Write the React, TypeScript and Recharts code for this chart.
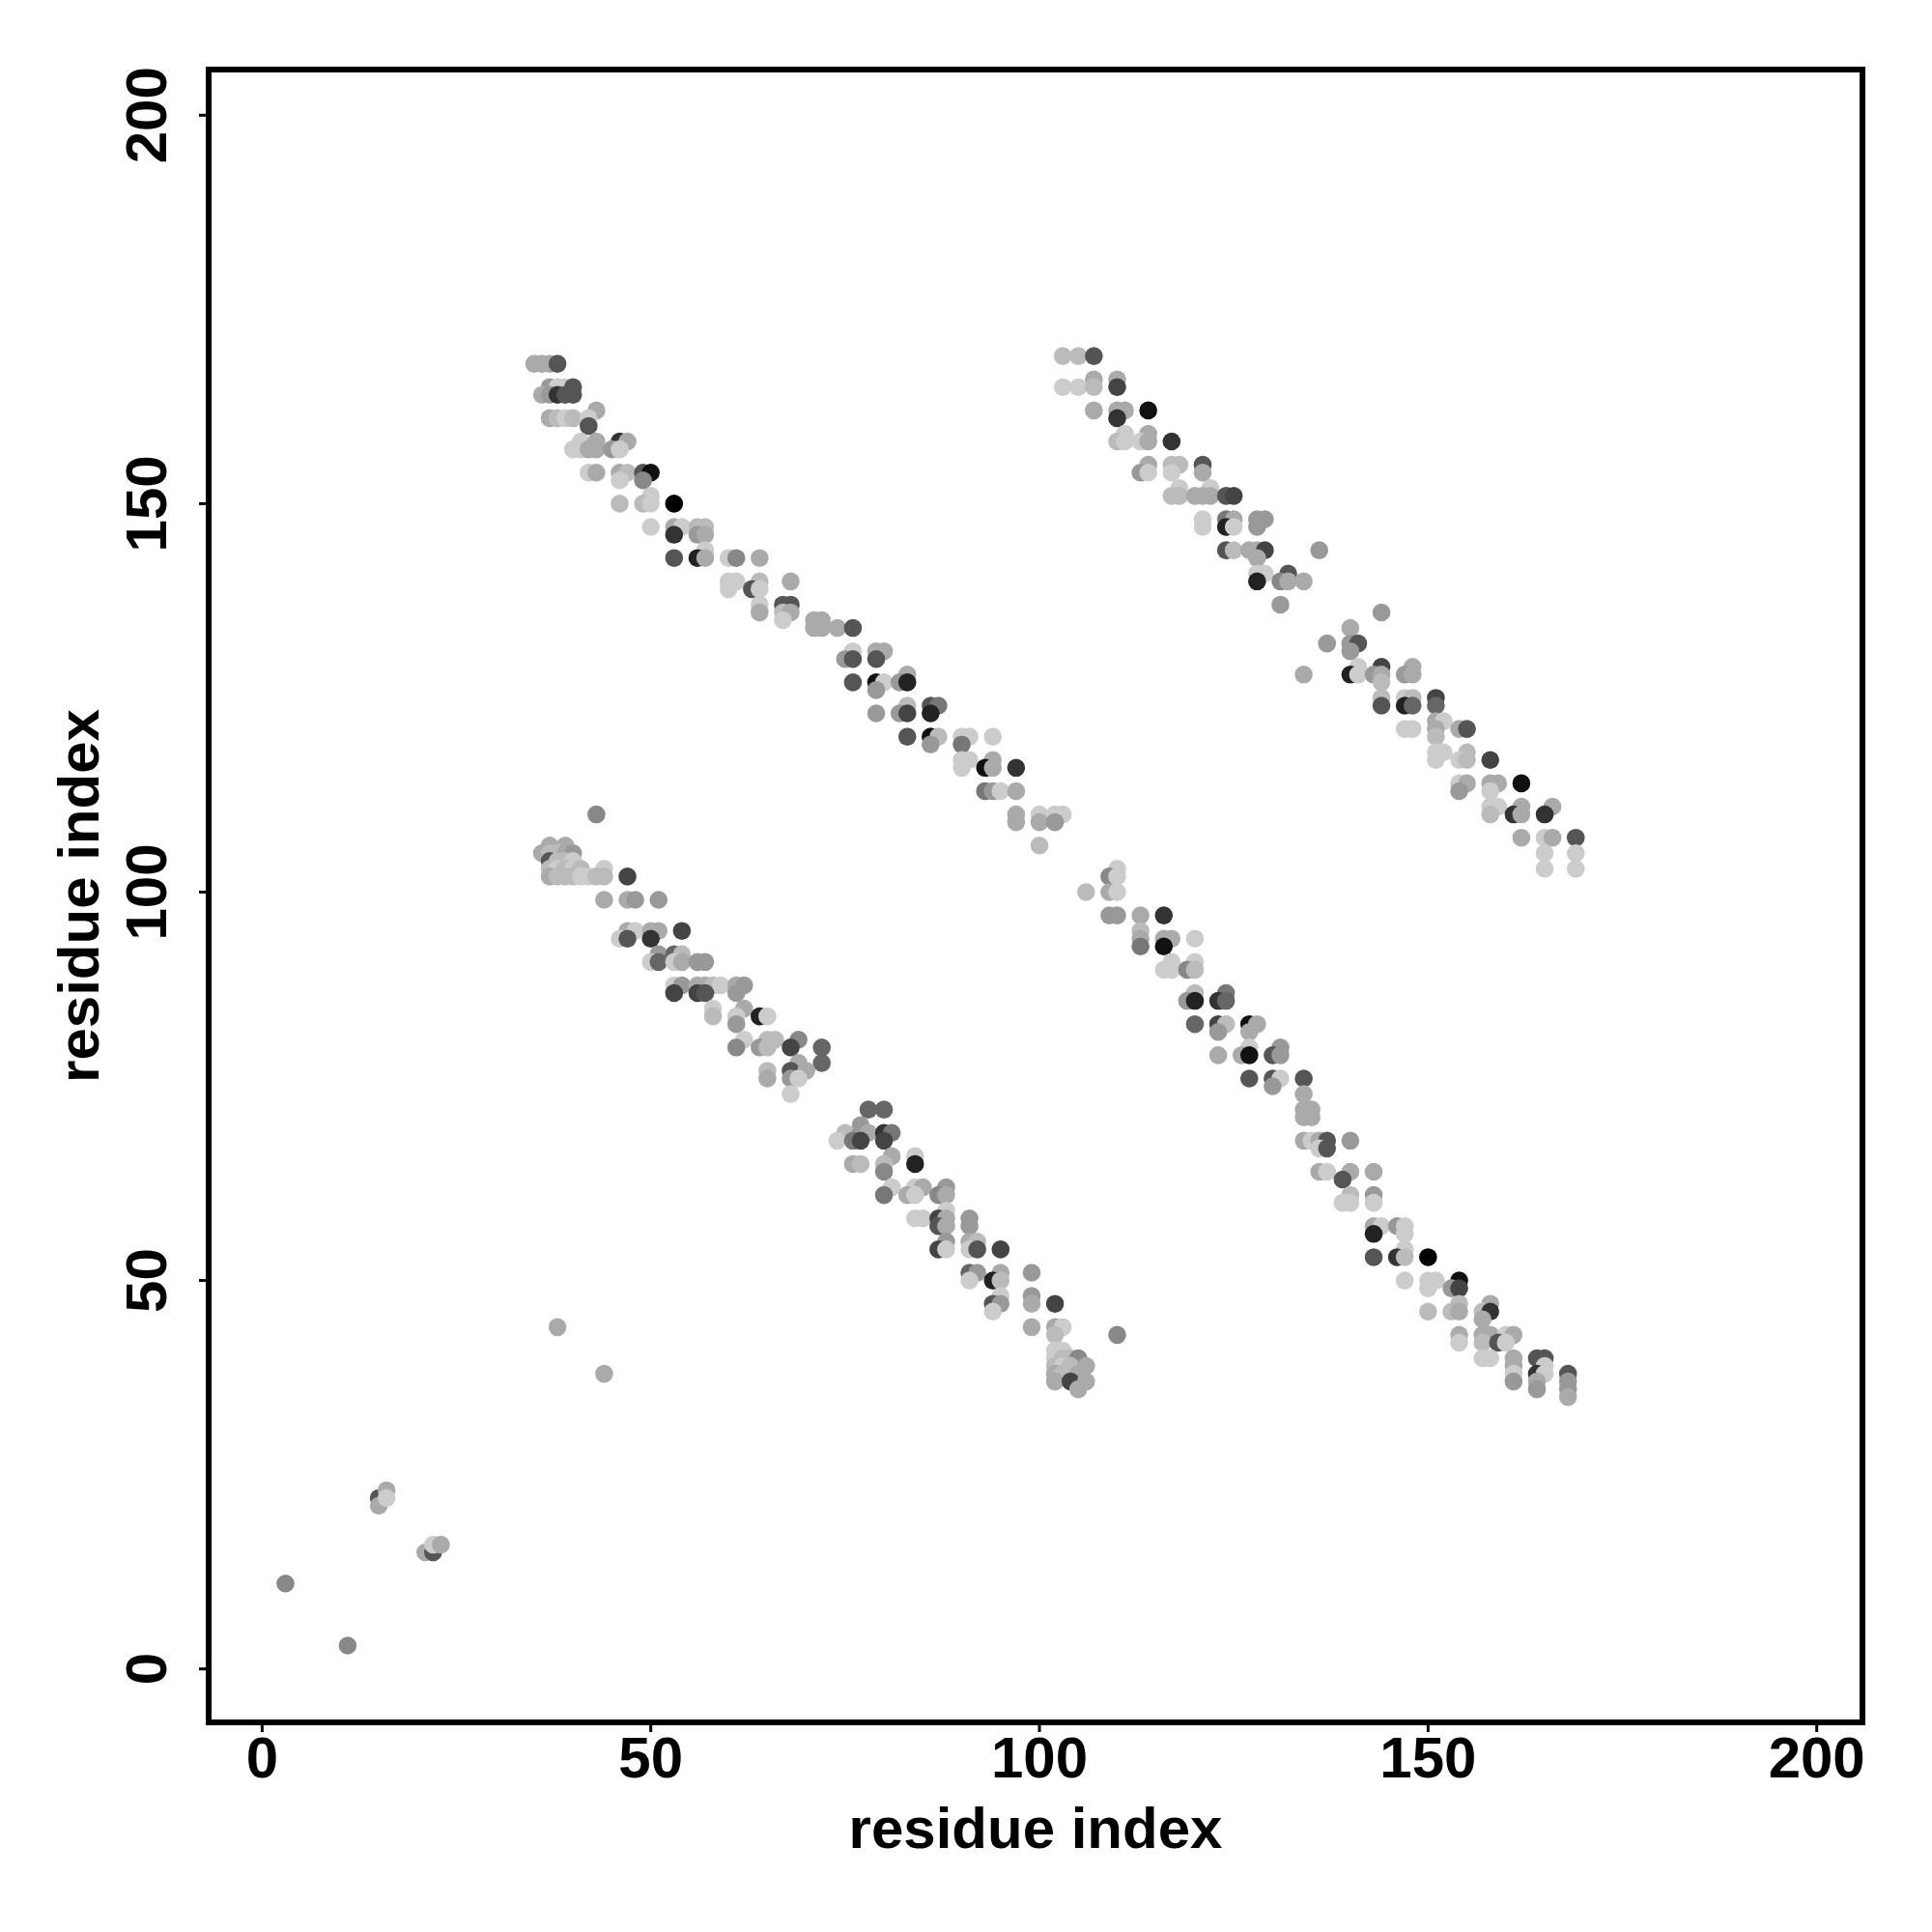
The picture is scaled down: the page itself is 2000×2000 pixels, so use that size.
import { Label, ReferenceArea, Scatter, ScatterChart, XAxis, YAxis } from 'recharts';

// axis setup (residues 1..198, R-style 4% padding)
const AXIS_TICKS = [0, 50, 100, 150, 200];
const DOMAIN: [number, number] = [-6.88, 205.88];

// contacts: [residue i, residue j, strength 0 (light grey) .. 12 (black)]
const bandUpperLeft: [number, number, number][] = [
  [35, 168, 2], [36, 168, 2], [37, 168, 2], [38, 168, 7],
  [37, 165, 3], [38, 165, 0], [39, 165, 0], [40, 165, 7],
  [36, 164, 2], [37, 164, 3], [38, 164, 9], [39, 164, 7], [40, 164, 7],
  [43, 162, 2],
  [37, 161, 2], [38, 161, 1], [39, 161, 0], [40, 161, 1], [42, 161, 0], [42, 160, 7],
  [41, 158, 0], [43, 158, 2], [46, 158, 9], [47, 158, 2],
  [40, 157, 0], [41, 157, 0], [42, 157, 2], [43, 157, 2], [45, 157, 3], [46, 157, 0],
  [42, 154, 0], [43, 154, 2], [46, 154, 2], [47, 154, 1], [49, 154, 7], [50, 154, 11],
  [46, 153, 0], [49, 153, 4],
  [50, 151, 0], [46, 150, 1], [49, 150, 1], [50, 150, 0], [53, 150, 12],
  [50, 147, 0], [53, 147, 2], [54, 147, 0], [56, 147, 1], [57, 147, 1],
  [53, 146, 9], [56, 146, 3], [57, 146, 2],
  [57, 144, 0],
  [53, 143, 7], [56, 143, 10], [57, 143, 2], [60, 143, 0], [61, 143, 4], [64, 143, 2],
  [60, 140, 0], [61, 140, 0], [64, 140, 1], [68, 140, 2],
  [60, 139, 0], [63, 139, 7], [64, 139, 0],
  [64, 137, 0], [67, 137, 7], [68, 137, 7],
  [64, 136, 2], [67, 136, 1], [68, 136, 2],
  [67, 135, 0], [71, 135, 2], [72, 135, 2],
  [71, 134, 2], [72, 134, 2], [74, 134, 2], [76, 134, 7],
  [76, 131, 0], [79, 131, 2], [80, 131, 2],
  [75, 130, 3], [76, 130, 7], [79, 130, 7],
  [83, 128, 2],
  [76, 127, 7], [79, 127, 11], [80, 127, 0], [82, 127, 3], [83, 127, 10],
  [79, 126, 3],
  [83, 124, 1], [86, 124, 7], [87, 124, 5],
  [79, 123, 3], [82, 123, 3], [83, 123, 8], [86, 123, 10],
  [83, 120, 7], [86, 120, 11], [87, 120, 1], [90, 120, 0], [91, 120, 0], [94, 120, 0],
  [86, 119, 3], [90, 119, 5],
  [90, 117, 0], [91, 117, 0], [94, 117, 2],
  [90, 116, 0], [93, 116, 11], [94, 116, 2], [97, 116, 9],
  [93, 113, 5], [94, 113, 3], [95, 113, 0], [97, 113, 2],
  [97, 110, 2], [100, 110, 0], [102, 110, 0], [103, 110, 0],
  [97, 109, 2], [100, 109, 2], [102, 109, 3],
  [100, 106, 1],
];

const bandUpperRight: [number, number, number][] = [
  [103, 169, 1], [105, 169, 1], [107, 169, 7],
  [107, 166, 2], [110, 166, 2],
  [103, 165, 0], [105, 165, 0], [107, 165, 1], [110, 165, 8],
  [107, 162, 2], [110, 162, 2], [111, 162, 2], [114, 162, 11], [110, 161, 9],
  [111, 159, 0], [114, 159, 2],
  [110, 158, 1], [111, 158, 0], [113, 158, 0], [114, 158, 2], [117, 158, 9],
  [114, 155, 2], [117, 155, 1], [118, 155, 1], [121, 155, 7],
  [113, 154, 3], [114, 154, 0], [117, 154, 0], [121, 154, 2],
  [118, 152, 0], [122, 152, 0],
  [117, 151, 1], [118, 151, 1], [120, 151, 2], [121, 151, 2], [122, 151, 2], [124, 151, 7], [125, 151, 8],
  [121, 148, 0], [124, 148, 5], [125, 148, 2], [128, 148, 3], [129, 148, 3],
  [121, 147, 0], [124, 147, 10], [125, 147, 0], [128, 147, 3],
  [124, 144, 7], [125, 144, 1], [127, 144, 2], [128, 144, 2], [129, 144, 8], [136, 144, 3],
  [128, 143, 2],
  [128, 141, 0], [129, 141, 0], [132, 141, 7],
  [128, 140, 10], [131, 140, 4], [132, 140, 2], [134, 140, 2],
  [131, 137, 3], [144, 136, 3],
  [140, 134, 2], [137, 132, 3], [140, 132, 3], [141, 132, 7], [140, 131, 3],
  [141, 129, 0], [144, 129, 8], [148, 129, 2],
  [134, 128, 2], [140, 128, 10], [141, 128, 0], [143, 128, 3], [144, 128, 2], [147, 128, 3], [148, 128, 2],
  [144, 127, 1],
  [144, 125, 1], [147, 125, 0], [148, 125, 1], [151, 125, 8],
  [144, 124, 7], [147, 124, 10], [148, 124, 6], [151, 124, 6],
  [151, 122, 2], [152, 122, 0],
  [147, 121, 0], [148, 121, 0], [151, 121, 2], [154, 121, 2], [155, 121, 7],
  [151, 120, 1],
  [151, 118, 0], [152, 118, 0], [155, 118, 1],
  [151, 117, 0], [154, 117, 0], [155, 117, 1], [158, 117, 8],
  [154, 114, 0], [155, 114, 2], [158, 114, 2], [159, 114, 2], [162, 114, 11],
  [154, 113, 3], [158, 113, 0],
  [158, 111, 0], [159, 111, 0], [162, 111, 2], [166, 111, 2],
  [158, 110, 1], [161, 110, 9], [162, 110, 2], [165, 110, 9],
  [162, 107, 2], [165, 107, 0], [166, 107, 2], [169, 107, 7],
  [165, 105, 0], [169, 105, 0], [165, 103, 0], [169, 103, 0],
];

const bandLowerLeft: [number, number, number][] = [
  [43, 110, 4],
  [37, 106, 2], [39, 106, 2],
  [36, 105, 2], [37, 105, 1], [38, 105, 1], [39, 105, 2], [40, 105, 3],
  [37, 104, 7], [38, 104, 1], [39, 104, 1], [40, 104, 0],
  [37, 103, 1], [38, 103, 0], [39, 103, 1], [40, 103, 0], [41, 103, 1], [44, 103, 0],
  [37, 102, 2], [38, 102, 1], [39, 102, 1], [40, 102, 1], [41, 102, 0], [42, 102, 0], [43, 102, 1], [44, 102, 1], [47, 102, 8],
  [44, 99, 2], [47, 99, 2], [48, 99, 3], [51, 99, 3],
  [47, 95, 2], [48, 95, 0], [50, 95, 2], [51, 95, 2], [54, 95, 8],
  [46, 94, 0], [47, 94, 7], [50, 94, 9],
  [51, 92, 3], [53, 92, 6], [54, 92, 1],
  [50, 91, 0], [51, 91, 6], [53, 91, 0], [54, 91, 2], [56, 91, 3], [57, 91, 3],
  [53, 88, 0], [54, 88, 3], [56, 88, 2], [57, 88, 2], [58, 88, 1], [59, 88, 0], [61, 88, 2], [62, 88, 3],
  [53, 87, 8], [56, 87, 8], [57, 87, 7], [61, 87, 3],
  [58, 85, 0], [62, 85, 2],
  [58, 84, 1], [61, 84, 0], [64, 84, 10], [65, 84, 0], [61, 83, 3],
  [62, 81, 0], [65, 81, 1], [66, 81, 1], [69, 81, 4],
  [61, 80, 4], [64, 80, 3], [65, 80, 1], [68, 80, 8], [72, 80, 6],
  [69, 78, 2], [72, 78, 6],
  [65, 77, 1], [68, 77, 7], [70, 77, 2],
  [65, 76, 2], [68, 76, 3], [69, 76, 0], [68, 74, 0],
  [78, 72, 6], [80, 72, 6], [77, 70, 3],
  [75, 69, 1], [77, 69, 3], [78, 69, 2], [80, 69, 9], [81, 69, 5],
  [74, 68, 0], [76, 68, 5], [77, 68, 8], [80, 68, 8],
  [81, 66, 2], [84, 66, 0],
  [76, 65, 2], [77, 65, 1], [80, 65, 1], [84, 65, 10], [80, 64, 4],
  [81, 62, 0], [84, 62, 0], [85, 62, 2], [88, 62, 3],
  [80, 61, 5], [83, 61, 2], [84, 61, 0], [87, 61, 4], [88, 61, 2],
  [88, 59, 0],
  [84, 58, 0], [85, 58, 0], [87, 58, 8], [88, 58, 2], [91, 58, 3],
  [87, 57, 7], [88, 57, 2], [91, 57, 3],
  [88, 55, 3], [91, 55, 2], [92, 55, 1],
  [87, 54, 8], [88, 54, 0], [91, 54, 0], [92, 54, 7], [95, 54, 8],
  [91, 51, 6], [92, 51, 3], [95, 51, 2], [99, 51, 3],
  [91, 50, 0], [94, 50, 10], [95, 50, 1],
  [95, 48, 0], [99, 48, 3],
  [94, 47, 7], [95, 47, 3], [99, 47, 2], [102, 47, 8], [94, 46, 0],
  [99, 44, 2], [102, 44, 2], [103, 44, 0], [102, 43, 1],
  [102, 41, 0], [103, 41, 0],
  [102, 40, 0], [103, 40, 1], [104, 40, 1], [105, 40, 4],
  [102, 39, 1], [103, 39, 0], [104, 39, 1], [106, 39, 2],
  [102, 38, 2], [103, 38, 1], [105, 38, 2],
  [102, 37, 2], [104, 37, 8], [106, 37, 2], [105, 36, 2],
];

const bandLowerRight: [number, number, number][] = [
  [110, 103, 0], [109, 102, 4], [110, 102, 0],
  [106, 100, 1], [109, 100, 2], [110, 100, 0],
  [109, 97, 3], [110, 97, 3], [113, 97, 2], [116, 97, 9],
  [113, 95, 1], [113, 94, 2], [116, 94, 2], [117, 94, 2], [120, 94, 0],
  [113, 93, 5], [116, 93, 11],
  [117, 91, 0], [120, 91, 0],
  [116, 90, 0], [117, 90, 0], [119, 90, 4], [120, 90, 1],
  [120, 87, 1], [124, 87, 5],
  [119, 86, 3], [120, 86, 10], [123, 86, 9], [124, 86, 6],
  [120, 83, 6], [123, 83, 8], [124, 83, 1], [127, 83, 11], [128, 83, 2],
  [123, 82, 3], [127, 82, 2],
  [127, 80, 0], [131, 80, 3],
  [123, 79, 2], [126, 79, 2], [127, 79, 11], [130, 79, 7], [131, 79, 3],
  [127, 76, 7], [130, 76, 7], [131, 76, 0], [134, 76, 7], [130, 75, 3],
  [134, 74, 2], [134, 72, 2], [135, 72, 2], [134, 71, 2], [135, 71, 2],
  [134, 68, 2], [135, 68, 0], [136, 68, 2], [137, 68, 7], [140, 68, 3],
  [136, 67, 0], [137, 67, 7],
  [136, 64, 2], [137, 64, 0], [140, 64, 2], [143, 64, 2], [139, 63, 7],
  [140, 61, 1], [143, 61, 3],
  [139, 60, 0], [140, 60, 0], [143, 60, 0],
  [143, 57, 2], [144, 57, 0], [146, 57, 3], [147, 57, 0],
  [143, 56, 10], [147, 56, 0],
  [147, 54, 0],
  [143, 53, 7], [146, 53, 9], [147, 53, 1], [150, 53, 12],
  [147, 50, 0], [150, 50, 0], [151, 50, 0], [154, 50, 11],
  [150, 49, 0], [153, 49, 3], [154, 49, 8],
  [154, 47, 1], [158, 47, 2],
  [150, 46, 1], [153, 46, 1], [154, 46, 2], [157, 46, 1], [158, 46, 9], [157, 45, 2],
  [154, 43, 2], [157, 43, 2], [158, 43, 2], [160, 43, 0], [161, 43, 2],
  [154, 42, 0], [157, 42, 1], [159, 42, 7], [160, 42, 0],
  [157, 40, 0], [158, 40, 0], [161, 40, 2], [164, 40, 7], [165, 40, 7],
  [161, 39, 2], [165, 39, 0],
  [161, 38, 0], [164, 38, 9], [165, 38, 0], [168, 38, 7],
  [161, 37, 3], [164, 37, 2], [168, 37, 3],
  [164, 36, 3], [168, 36, 3], [168, 35, 2],
];

const isolated: [number, number, number][] = [
  [3, 11, 4], [11, 3, 4],
  [15, 22, 7], [15, 21, 2], [16, 23, 2], [16, 22, 0],
  [21, 15, 2], [22, 15, 7], [22, 16, 0], [23, 16, 2],
  [38, 44, 2], [44, 38, 2], [110, 43, 4],
];

const contacts = [bandUpperLeft, bandUpperRight, bandLowerLeft, bandLowerRight, isolated]
  .flat()
  .map(([x, y, s]) => ({ x, y, s }));

const FONT = '"Liberation Sans", Arial, Helvetica, sans-serif';

// plot box edges in page px
const LEFT = 216;
const TOP = 72;
const RIGHT = 1928;
const BOTTOM = 1783;

const grey = (s: number) => {
  const v = (12 - s) * 17;
  return `rgb(${v},${v},${v})`;
};

const Dot = (props: any) => {
  const { cx, cy, payload } = props;
  return <circle cx={cx} cy={cy} r={9.3} fill={grey(payload.s)} />;
};

const YTick = (props: any) => {
  const { x, y, payload } = props;
  return (
    <text
      x={x}
      y={y}
      transform={`rotate(-90 ${x} ${y})`}
      textAnchor="middle"
      fontFamily={FONT}
      fontWeight={700}
      fontSize={60}
      fill="#000"
    >
      {payload.value}
    </text>
  );
};

export default function App() {
  return (
    <div style={{ position: 'absolute', left: 0, top: 0, width: 2000, height: 2000, background: '#fff' }}>
      <ScatterChart
        width={2000}
        height={2000}
        margin={{ top: TOP, right: 2000 - RIGHT, bottom: 0, left: 0 }}
      >
        <XAxis
          type="number"
          dataKey="x"
          domain={DOMAIN}
          ticks={AXIS_TICKS}
          allowDataOverflow
          height={2000 - BOTTOM}
          axisLine={false}
          tickLine={{ stroke: '#000', strokeWidth: 3 }}
          tickSize={10}
          tickMargin={4}
          tick={{ fill: '#000', fontSize: 60, fontWeight: 700, fontFamily: FONT }}
        >
          <Label
            content={() => (
              <text
                x={(LEFT + RIGHT) / 2}
                y={1913}
                textAnchor="middle"
                fontFamily={FONT}
                fontWeight={700}
                fontSize={60}
                fill="#000"
              >
                residue index
              </text>
            )}
          />
        </XAxis>
        <YAxis
          type="number"
          dataKey="y"
          domain={DOMAIN}
          ticks={AXIS_TICKS}
          allowDataOverflow
          width={LEFT}
          axisLine={false}
          tickLine={{ stroke: '#000', strokeWidth: 3 }}
          tickSize={10}
          tickMargin={34}
          tick={<YTick />}
        >
          <Label
            content={() => (
              <text
                x={102}
                y={(TOP + BOTTOM) / 2}
                transform={`rotate(-90 102 ${(TOP + BOTTOM) / 2})`}
                textAnchor="middle"
                fontFamily={FONT}
                fontWeight={700}
                fontSize={60}
                fill="#000"
              >
                residue index
              </text>
            )}
          />
        </YAxis>
        <ReferenceArea
          x1={DOMAIN[0]}
          x2={DOMAIN[1]}
          y1={DOMAIN[0]}
          y2={DOMAIN[1]}
          fill="none"
          stroke="#000"
          strokeWidth={6}
          ifOverflow="visible"
        />
        <Scatter data={contacts} shape={<Dot />} isAnimationActive={false} />
      </ScatterChart>
    </div>
  );
}
